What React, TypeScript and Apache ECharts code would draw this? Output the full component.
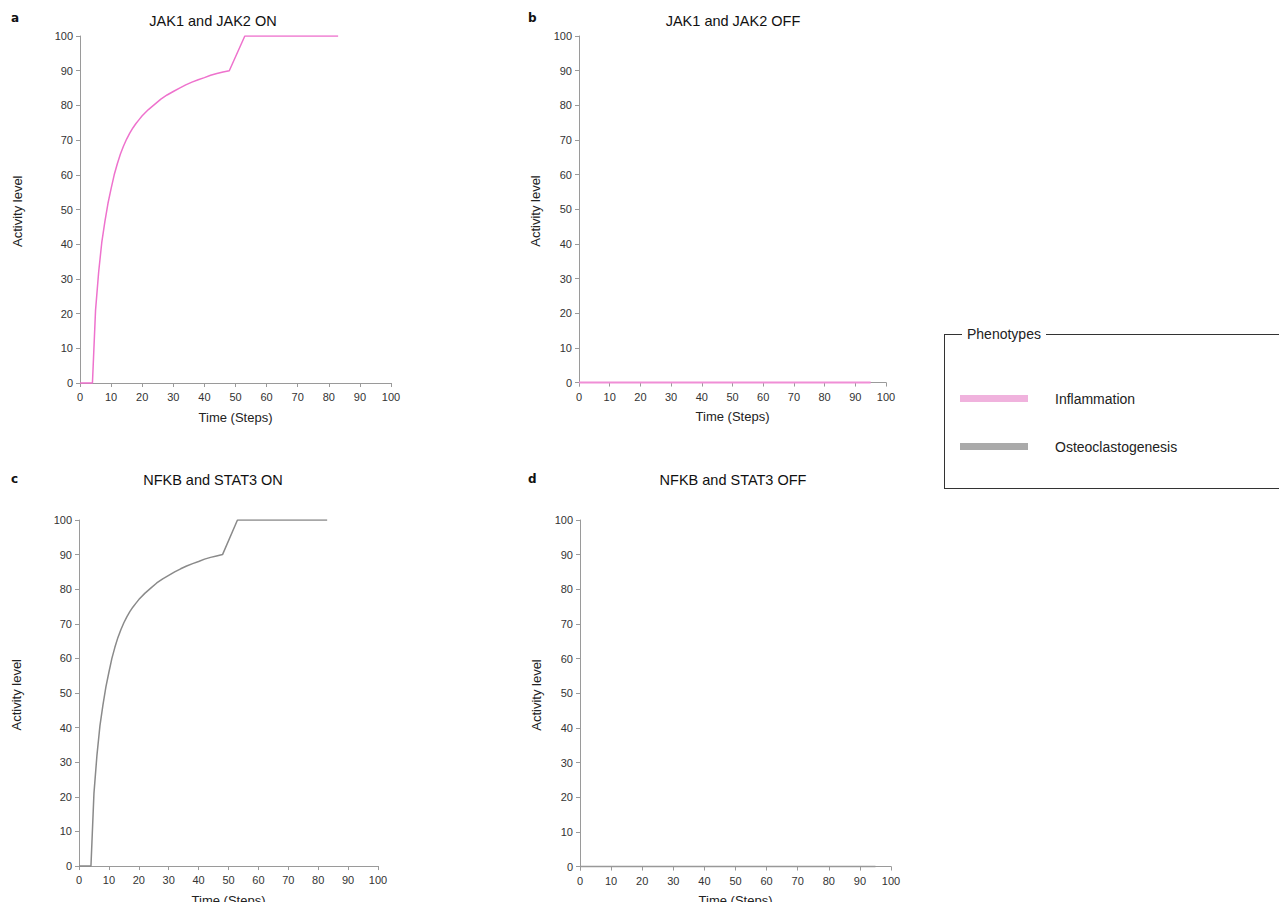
import React, { useEffect, useRef } from "react";
import * as echarts from "echarts";

// Panel a: JAK1 and JAK2 ON (Inflammation)
const jakOnSteps = [0, 1, 2, 3, 4, 5, 6, 7, 8, 9, 10, 11, 12, 13, 14, 15, 16, 17, 18, 19, 20, 22, 24, 26, 28, 30, 32, 34, 36, 38, 40, 42, 44, 46, 48, 53, 83];
const jakOnValues = [0, 0, 0, 0, 0, 21, 32, 40.5, 46.5, 51.8, 56, 60, 63.2, 66, 68.3, 70.3, 72, 73.5, 74.8, 75.9, 77, 78.8, 80.3, 81.8, 83, 84, 85, 85.9, 86.7, 87.4, 88, 88.7, 89.2, 89.6, 90, 100, 100];
// Panel b: JAK1 and JAK2 OFF
const jakOffSteps = [0, 95];
const jakOffValues = [0, 0];
// Panel c: NFKB and STAT3 ON (Osteoclastogenesis)
const nfkbOnSteps = [0, 1, 2, 3, 4, 5, 6, 7, 8, 9, 10, 11, 12, 13, 14, 15, 16, 17, 18, 19, 20, 22, 24, 26, 28, 30, 32, 34, 36, 38, 40, 42, 44, 46, 48, 53, 83];
const nfkbOnValues = [0, 0, 0, 0, 0, 21, 32, 40.5, 46.5, 51.8, 56, 60, 63.2, 66, 68.3, 70.3, 72, 73.5, 74.8, 75.9, 77, 78.8, 80.3, 81.8, 83, 84, 85, 85.9, 86.7, 87.4, 88, 88.7, 89.2, 89.6, 90, 100, 100];
// Panel d: NFKB and STAT3 OFF
const nfkbOffSteps = [0, 95];
const nfkbOffValues = [0, 0];

const yTicks = [0, 10, 20, 30, 40, 50, 60, 70, 80, 90, 100];
const panelTitles = ["JAK1 and JAK2 ON", "JAK1 and JAK2 OFF", "NFKB and STAT3 ON", "NFKB and STAT3 OFF"];
const panelLetters = ["a", "b", "c", "d"];
const legendTitle = "Phenotypes";
const legendNames = ["Inflammation", "Osteoclastogenesis"];

const PINK = "#EE72CD";
const PINK_LIGHT = "#F0B2DD";
const GRAY = "#8A8A8A";
const GRAY_LIGHT = "#AAAAAA";
const AXIS = "#9A9A9A";
const FONT = "'Liberation Sans', Arial, sans-serif";

const pair = (s: number[], v: number[]) => s.map((x, i) => [x, v[i]]);

export default function App() {
  const ref = useRef<HTMLDivElement>(null);
  useEffect(() => {
    if (!ref.current) return;
    const chart = echarts.init(ref.current, undefined, { renderer: "svg" });
    const grids = [
      { left: 80, top: 36, width: 311, height: 350.5 },
      { left: 579, top: 36, width: 307, height: 350 },
      { left: 79, top: 520, width: 299, height: 349.5 },
      { left: 580, top: 520, width: 311, height: 350 },
    ].map((g) => ({ ...g, outerBoundsMode: "none", containLabel: false }));
    const xAxes = grids.map((_, i) => ({
      type: "value",
      gridIndex: i,
      min: 0,
      max: 100,
      interval: 10,
      name: "Time (Steps)",
      nameLocation: "middle",
      nameGap: 24,
      nameTextStyle: { fontFamily: FONT, fontSize: 13, color: "#222" },
      axisLine: { show: true, lineStyle: { color: AXIS, width: 1 } },
      axisTick: { show: true, length: 4, lineStyle: { color: AXIS } },
      axisLabel: { fontFamily: FONT, fontSize: 11, color: "#333", margin: 5 },
      splitLine: { show: false },
    }));
    const yAxes = grids.map((_, i) => ({
      type: "value",
      gridIndex: i,
      min: -1,
      max: 100,
      name: "Activity level",
      nameLocation: "middle",
      nameGap: i % 2 === 0 ? 56 : 37,
      nameRotate: 90,
      nameTextStyle: { fontFamily: FONT, fontSize: 13, color: "#222" },
      axisLine: { show: true, lineStyle: { color: AXIS, width: 1 } },
      axisTick: { show: true, length: 4, customValues: yTicks, lineStyle: { color: AXIS } },
      axisLabel: { fontFamily: FONT, fontSize: 11, color: "#333", margin: 7, customValues: yTicks },
      splitLine: { show: false },
    }));
    const series = [
      { data: pair(jakOnSteps, jakOnValues), color: PINK, width: 1.5 },
      { data: pair(jakOffSteps, jakOffValues), color: "#F08ED6", width: 2 },
      { data: pair(nfkbOnSteps, nfkbOnValues), color: GRAY, width: 1.5 },
      { data: pair(nfkbOffSteps, nfkbOffValues), color: "#999999", width: 1.5 },
    ].map((s, i) => ({
      type: "line",
      xAxisIndex: i,
      yAxisIndex: i,
      data: s.data,
      showSymbol: false,
      symbol: "none",
      lineStyle: { color: s.color, width: s.width },
      silent: true,
    }));
    const titlePos = [
      [213, 21],
      [733, 21],
      [213, 480],
      [733, 480],
    ];
    const letterPos = [
      [11, 18],
      [528, 18],
      [11, 479],
      [528, 479],
    ];
    const graphics: any[] = [];
    panelTitles.forEach((t, i) => {
      graphics.push({
        type: "text",
        x: titlePos[i][0],
        y: titlePos[i][1],
        style: { text: t, font: `14.5px ${FONT}`, fill: "#111", textAlign: "center", textVerticalAlign: "middle" },
      });
      graphics.push({
        type: "text",
        x: letterPos[i][0],
        y: letterPos[i][1],
        style: { text: panelLetters[i], font: `bold 12px 'DejaVu Sans', sans-serif`, fill: "#111", textAlign: "left", textVerticalAlign: "middle" },
      });
    });
    // legend box
    const boxStroke = { stroke: "#333", lineWidth: 1 };
    graphics.push(
      { type: "line", shape: { x1: 944, y1: 334.5, x2: 962, y2: 334.5 }, style: boxStroke },
      { type: "line", shape: { x1: 1046, y1: 334.5, x2: 1279, y2: 334.5 }, style: boxStroke },
      { type: "line", shape: { x1: 944.5, y1: 334, x2: 944.5, y2: 488.5 }, style: boxStroke },
      { type: "line", shape: { x1: 944, y1: 488.5, x2: 1279, y2: 488.5 }, style: boxStroke },
      {
        type: "text",
        x: 967,
        y: 334,
        style: { text: legendTitle, font: `14px ${FONT}`, fill: "#222", textAlign: "left", textVerticalAlign: "middle" },
      },
      { type: "rect", shape: { x: 960, y: 395, width: 68, height: 7 }, style: { fill: PINK_LIGHT } },
      { type: "rect", shape: { x: 960, y: 443, width: 68, height: 7 }, style: { fill: GRAY_LIGHT } },
      {
        type: "text",
        x: 1055,
        y: 398.5,
        style: { text: legendNames[0], font: `14px ${FONT}`, fill: "#222", textAlign: "left", textVerticalAlign: "middle" },
      },
      {
        type: "text",
        x: 1055,
        y: 446.5,
        style: { text: legendNames[1], font: `14px ${FONT}`, fill: "#222", textAlign: "left", textVerticalAlign: "middle" },
      }
    );
    chart.setOption({
      animation: false,
      backgroundColor: "#ffffff",
      grid: grids,
      xAxis: xAxes,
      yAxis: yAxes,
      series,
      graphic: graphics,
    });
    return () => chart.dispose();
  }, []);
  return <div ref={ref} style={{ position: "absolute", left: 0, top: 0, width: 1279, height: 902 }} />;
}
